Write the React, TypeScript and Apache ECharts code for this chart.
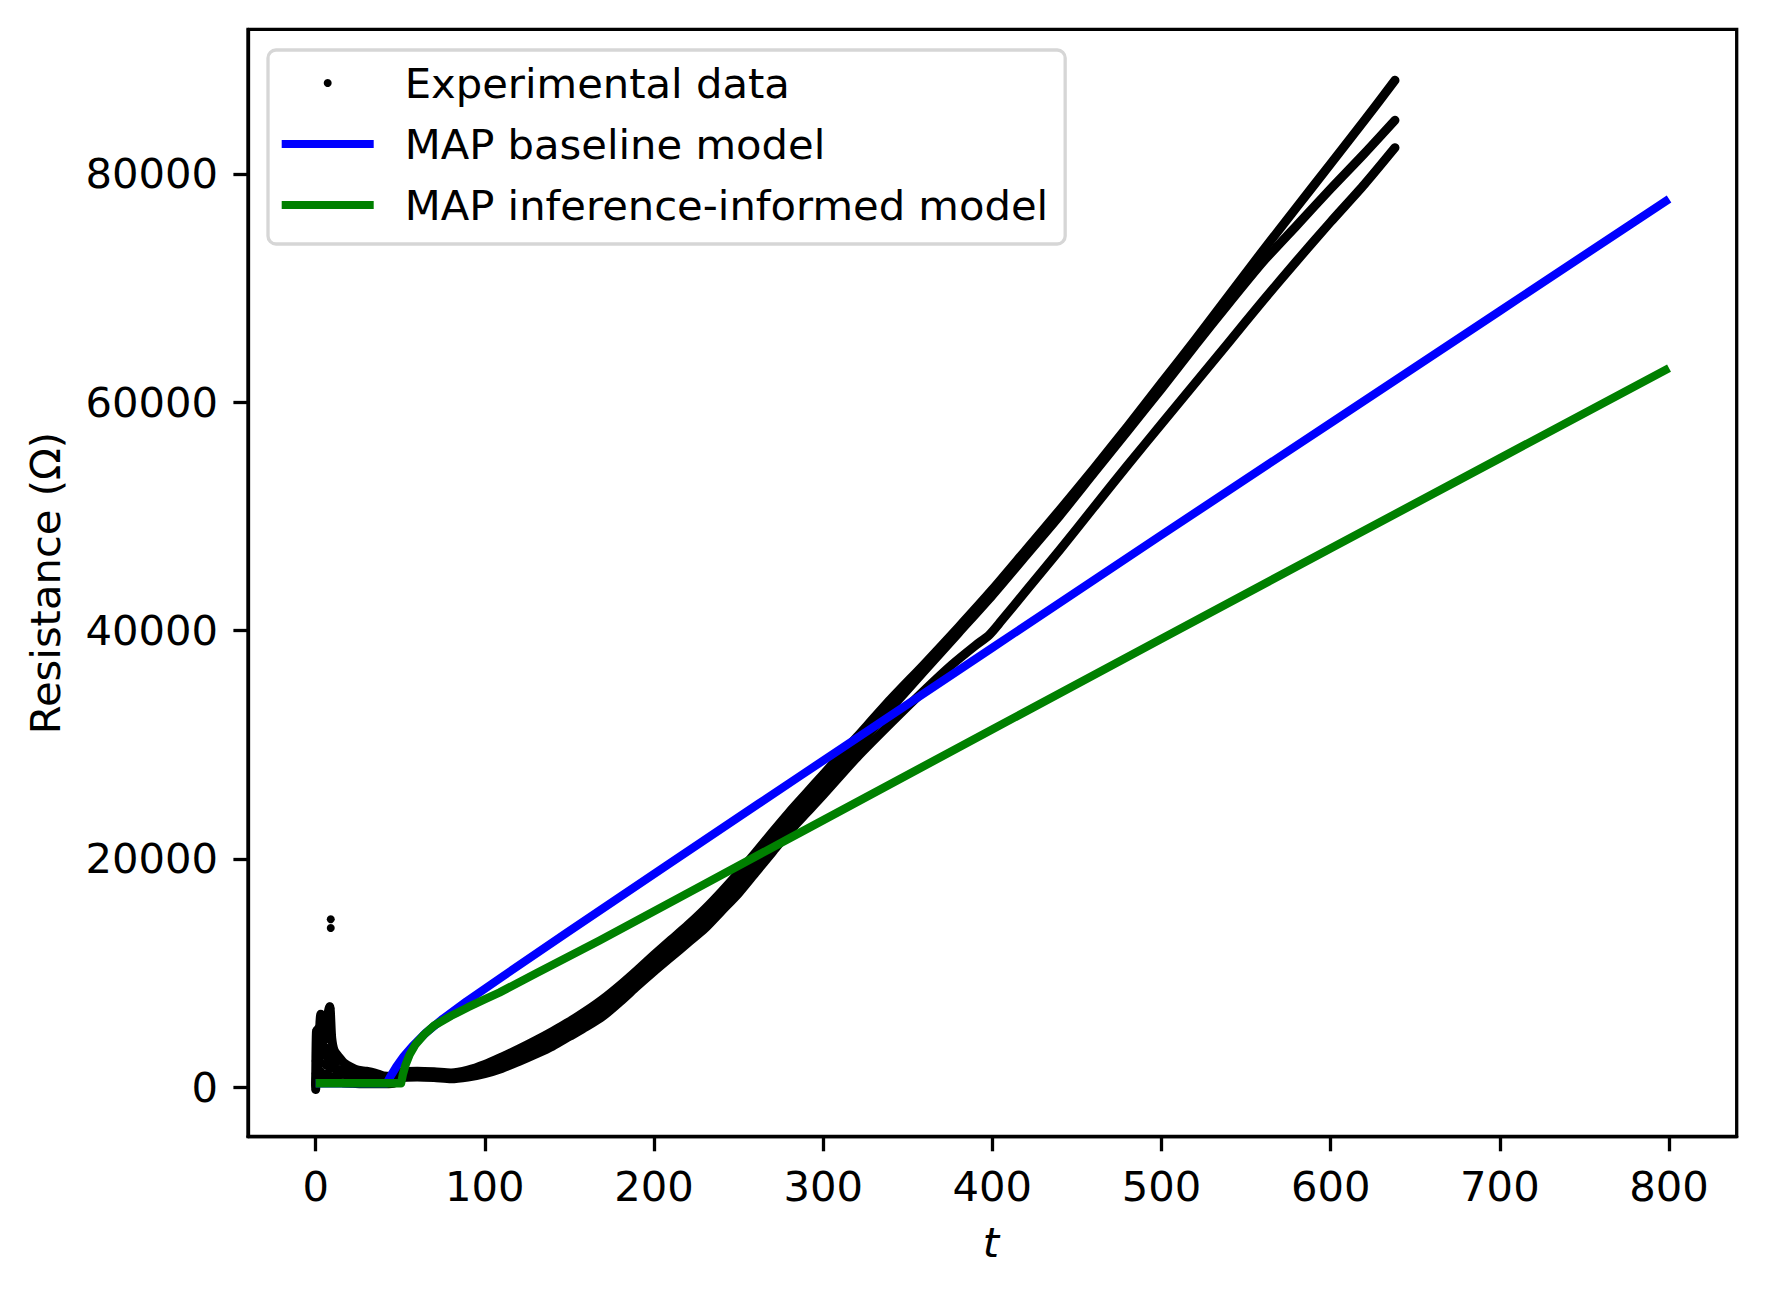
import React, { useEffect, useRef } from "react";
import * as echarts from "echarts";

// ---------- data ----------
const xTicks = [0, 100, 200, 300, 400, 500, 600, 700, 800];
const yTicks = [0, 20000, 40000, 60000, 80000];

const seriesNames = ["Experimental data", "MAP baseline model", "MAP inference-informed model"];

// three experimental runs [t, R]
const runA: [number, number][] = [
  [0, 300], [0.5, 4900], [1.5, 3200], [3, 6400], [4.5, 4200], [6.3, 5750], [8.3, 7060], [9.5, 4300],
  [11, 3200], [14, 2600], [17, 2100], [21, 1750], [25, 1500], [30, 1400], [35, 1250], [40, 1000],
  [45, 950], [50, 1300], [60, 1400], [70, 1350], [80, 1250], [90, 1500], [100, 2000], [110, 2650],
  [120, 3350], [130, 4100], [140, 4900], [150, 5750], [160, 6700], [170, 7750], [180, 8950], [190, 10250],
  [200, 11600], [210, 12900], [220, 14200], [230, 15600], [240, 17150], [250, 18800], [260, 20550],
  [270, 22350], [280, 24100], [290, 25750], [300, 27400], [320, 30700], [340, 34000], [360, 37100],
  [380, 40300], [400, 43600], [420, 47100], [440, 50600], [460, 54200], [480, 57900], [500, 61700],
  [520, 65500], [540, 69400], [560, 73300], [580, 77100], [600, 80900], [620, 84700], [638, 88200],
];

const runB: [number, number][] = [
  [0, 100], [1, 2400], [2.5, 3800], [4, 2800], [6, 3300], [8, 2300], [10, 1900], [13, 1500], [17, 1200],
  [22, 950], [28, 800], [34, 700], [40, 650], [46, 700], [50, 1050], [60, 1150], [70, 1100], [80, 1000],
  [90, 1200], [100, 1600], [110, 2150], [120, 2800], [130, 3500], [140, 4250], [150, 5100], [160, 6000],
  [170, 7000], [180, 8250], [190, 9600], [200, 10900], [210, 12150], [220, 13400], [230, 14700],
  [240, 16300], [250, 17900], [260, 19700], [270, 21500], [280, 23300], [290, 24900], [300, 26500],
  [320, 29800], [340, 33200], [360, 36500], [380, 39800], [400, 43100], [420, 46600], [440, 50100],
  [460, 53800], [480, 57500], [500, 61200], [520, 65000], [540, 68700], [560, 72300], [580, 75500],
  [600, 78700], [620, 81800], [638, 84700],
];

const runC: [number, number][] = [
  [0, -200], [1, 1500], [2, 600], [4, 1100], [6, 500], [9, 900], [12, 500], [16, 400], [22, 350],
  [30, 300], [38, 300], [46, 350], [50, 800], [60, 900], [70, 850], [80, 750], [90, 900], [100, 1200],
  [110, 1650], [120, 2250], [130, 2900], [140, 3600], [150, 4450], [160, 5300], [170, 6250], [180, 7500],
  [190, 8850], [200, 10150], [210, 11400], [220, 12650], [230, 13900], [240, 15450], [250, 17000],
  [260, 18800], [270, 20600], [280, 22400], [290, 24000], [300, 25600], [320, 28900], [340, 31900],
  [360, 34800], [376, 37000], [390, 38700], [398, 39600], [405, 40800], [420, 43500], [440, 47100],
  [460, 50800], [480, 54500], [500, 58100], [520, 61700], [540, 65300], [560, 68900], [580, 72400],
  [600, 75800], [620, 79100], [638, 82300],
];

// dense noisy cluster at the start of the runs
const earlyNoise: [number, number][] = [
  [0, 200], [0, 1200], [0, 2300], [0.3, 3300], [0.5, 4300], [1, 800], [1, 2800], [1.5, 1800],
  [1.5, 5200], [2, 3800], [2.2, 600], [2.5, 2600], [3, 1400], [3, 4600], [3.5, 3300], [4, 2100],
  [4, 600], [4.5, 3900], [5, 1200], [5, 2800], [5.5, 4400], [6, 1900], [6, 3500], [6.5, 700],
  [7, 2600], [7.5, 4200], [8, 1500], [8, 3200], [8.5, 5000], [9, 2300], [9.5, 900], [10, 3000],
  [10.5, 1700], [11, 2500], [12, 1200], [12.5, 2200], [13, 700], [14, 1600], [15, 2300], [16, 1100],
  [17, 1800], [19, 800], [20, 1500], [22, 1100], [24, 1400], [26, 800], [28, 1200], [31, 900],
  [34, 1100], [37, 700], [40, 900], [44, 600],
];

const outliers: [number, number][] = [
  [8.9, 14720], [8.9, 13950], [8.7, 6900], [8.5, 6400], [3, 6200], [2.5, 5800], [0.5, 5020], [1, 4600],
  [6.5, 5900], [8.2, 7060],
];

const baselineModel: [number, number][] = [
  [0, 350], [42, 350], [44, 900], [47.7, 1800], [52, 2700], [57.5, 3650], [65, 4750], [75.2, 6000],
  [89, 7500], [110, 9650], [148, 13490], [207, 19380], [262, 24850], [286, 27230], [400, 38500],
  [498.5, 48230], [600, 58190], [700, 68000], [800, 77810],
];

const informedModel: [number, number][] = [
  [0, 350], [50.5, 350], [51.5, 1100], [53, 1900], [55.5, 2850], [59, 3750], [64, 4600], [70, 5400],
  [80, 6250], [90, 7000], [100, 7700], [108.7, 8300], [130, 9950], [167.7, 12850], [226.8, 17550],
  [285.9, 22270], [400, 31350], [498.5, 39170], [600, 47200], [700, 55100], [800, 62990],
];

// ---------- chart ----------
const FONT = "DejaVu Sans";
const FS = 41.7;

export default function App() {
  const ref = useRef<HTMLDivElement>(null);

  useEffect(() => {
    if (!ref.current) return;
    const chart = echarts.init(ref.current, undefined, { renderer: "svg" });

    const expLine = (data: [number, number][]) => ({
      type: "line",
      name: seriesNames[0],
      data,
      symbol: "none",
      silent: true,
      smooth: 0.25,
      z: 2,
      lineStyle: { color: "#000", width: 9, join: "round", cap: "round", opacity: 1 },
      itemStyle: { color: "#000" },
    });

    const expDots = (data: [number, number][], size: number) => ({
      type: "scatter",
      name: seriesNames[0],
      data,
      symbol: "circle",
      symbolSize: size,
      silent: true,
      z: 2,
      itemStyle: { color: "#000", opacity: 1, borderWidth: 0 },
    });

    const axisCommon = (ticks: number[], margin: number) => ({
      axisLine: { show: true, onZero: false, lineStyle: { color: "#000", width: 3.3 } },
      splitLine: { show: false },
      axisTick: {
        show: true,
        inside: false,
        length: 14.6,
        lineStyle: { color: "#000", width: 3.3 },
        customValues: ticks,
      },
      axisLabel: {
        customValues: ticks,
        formatter: (v: number) => String(v),
        fontSize: FS,
        fontFamily: FONT,
        color: "#000",
        margin,
      },
    });

    const option: any = {
      animation: false,
      backgroundColor: "#ffffff",
      grid: {
        left: 248,
        top: 29.3,
        right: 29.3,
        bottom: 157.3,
        show: true,
        borderColor: "#000",
        borderWidth: 3.3,
        backgroundColor: "transparent",
        containLabel: false,
        outerBoundsMode: "none",
      },
      xAxis: { type: "value", min: -40, max: 840, ...axisCommon(xTicks, 29) },
      yAxis: { type: "value", min: -4330, max: 92670, ...axisCommon(yTicks, 30) },
      legend: {
        left: 268,
        top: 50,
        orient: "vertical",
        selectedMode: false,
        padding: [8, 17, 14, 13.7],
        itemGap: 11,
        itemWidth: 92,
        itemHeight: 8,
        borderColor: "#d6d6d6",
        borderWidth: 3.3,
        borderRadius: 8,
        backgroundColor: "rgba(255,255,255,0.8)",
        itemStyle: { borderWidth: 0 },
        textStyle: {
          fontSize: FS,
          fontFamily: FONT,
          color: "#000",
          lineHeight: 50,
          padding: [0, 0, 0, 26],
        },
        data: [
          { name: seriesNames[0], icon: "circle" },
          { name: seriesNames[1], icon: "rect" },
          { name: seriesNames[2], icon: "rect" },
        ],
      },
      graphic: [
        {
          type: "text",
          x: 45,
          y: 583,
          rotation: Math.PI / 2,
          silent: true,
          style: {
            text: "Resistance (Ω)",
            fontSize: FS,
            fontFamily: FONT,
            fill: "#000",
            align: "center",
            verticalAlign: "middle",
          },
        },
        {
          type: "text",
          x: 991,
          y: 1242,
          silent: true,
          style: {
            text: "t",
            fontSize: FS,
            fontFamily: FONT,
            fontStyle: "italic",
            fill: "#000",
            align: "center",
            verticalAlign: "middle",
          },
        },
      ],
      series: [
        expLine(runA),
        expLine(runB),
        expLine(runC),
        expDots(earlyNoise, 8),
        expDots(outliers, 8),
        {
          type: "line",
          name: seriesNames[1],
          data: baselineModel,
          symbol: "none",
          silent: true,
          z: 3,
          lineStyle: { color: "#0000ff", width: 8.3, join: "round" },
          itemStyle: { color: "#0000ff" },
        },
        {
          type: "line",
          name: seriesNames[2],
          data: informedModel,
          symbol: "none",
          silent: true,
          z: 4,
          lineStyle: { color: "#008000", width: 8.3, join: "round" },
          itemStyle: { color: "#008000" },
        },
      ],
    };

    chart.setOption(option);
    return () => chart.dispose();
  }, []);

  return (
    <div
      ref={ref}
      style={{ position: "fixed", left: 0, top: 0, width: 1766, height: 1294, background: "#fff" }}
    />
  );
}
